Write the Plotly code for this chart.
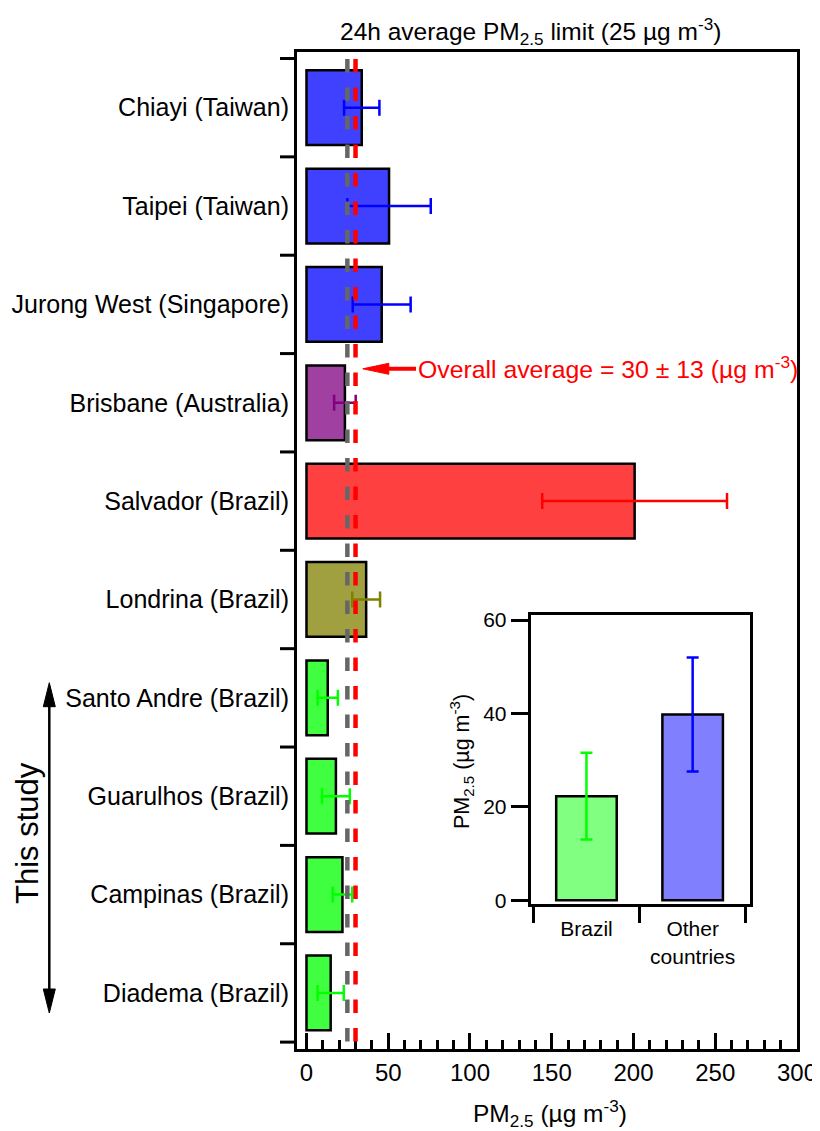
import plotly.graph_objects as go

# ---------------- data ----------------
cities = ["Chiayi (Taiwan)", "Taipei (Taiwan)", "Jurong West (Singapore)",
          "Brisbane (Australia)", "Salvador (Brazil)", "Londrina (Brazil)",
          "Santo Andre (Brazil)", "Guarulhos (Brazil)", "Campinas (Brazil)",
          "Diadema (Brazil)"]
pm25_mean = [33.8, 50.5, 46.0, 23.5, 200.7, 36.5, 13.0, 18.0, 22.0, 14.8]
pm25_sd = [10.8, 25.5, 17.7, 6.6, 56.5, 8.5, 6.2, 8.5, 6.0, 8.0]
city_group = ["asia", "asia", "asia", "australia", "salvador", "londrina",
              "study", "study", "study", "study"]

limit_24h = 25
overall_avg = 30
overall_sd = 13

x_ticks = [0, 50, 100, 150, 200, 250, 300]

regions = ["Brazil", "Other<br>countries"]
region_mean = [22.3, 39.8]
region_sd = [9.3, 12.2]
inset_y_ticks = [0, 20, 40, 60]
inset_grid = [20, 40]

# ---------------- styles ----------------
group_style = {
    "asia": ("#4040FF", "#0000FF"),
    "australia": ("#A040A0", "#800080"),
    "salvador": ("#FF4040", "#FF0000"),
    "londrina": ("#A0A040", "#808000"),
    "study": ("#40FF40", "#00FF00"),
}
region_style = [("#80FF80", "#00FF00"), ("#8080FF", "#0000FF")]
FONT = "Liberation Sans, Arial, sans-serif"

# page offset of the plot div (default body margin)
OFF = 8
PAGE_W, PAGE_H = 820, 1131
# plot-area pixel geometry in page coordinates (for decorations)
L, R, T, B = 297, 797, 52, 1049
W, H = R - L, B - T


def px(x):
    return (x - L) / W


def py(y):
    return (B - y) / H


fig = go.Figure()

# main bars, one trace per colour group
for g in ["asia", "australia", "salvador", "londrina", "study"]:
    idx = [i for i, cg in enumerate(city_group) if cg == g]
    fill, ecol = group_style[g]
    fig.add_trace(go.Bar(
        y=[cities[i] for i in idx],
        x=[pm25_mean[i] for i in idx],
        orientation="h",
        width=0.76,
        marker=dict(color=fill, line=dict(color="black", width=2.5)),
        error_x=dict(type="data", array=[pm25_sd[i] for i in idx],
                     color=ecol, thickness=2.5, width=8),
        showlegend=False,
        xaxis="x", yaxis="y",
    ))

# inset bars
for i, reg in enumerate(regions):
    fill, ecol = region_style[i]
    fig.add_trace(go.Bar(
        x=[reg], y=[region_mean[i]],
        width=0.57,
        marker=dict(color=fill, line=dict(color="black", width=2.5)),
        error_y=dict(type="data", array=[region_sd[i]], color=ecol,
                     thickness=2.5, width=6),
        showlegend=False,
        xaxis="x2", yaxis="y2",
    ))

shapes = []
# reference lines (limit and overall average)
for val, col in [(limit_24h, "#666666"), (overall_avg, "#FF0000")]:
    shapes.append(dict(type="line", xref="x", yref="paper",
                       x0=val, x1=val, y0=py(59), y1=0,
                       line=dict(color=col, width=4.5, dash="13.5px,15px"),
                       layer="above"))

# boundary ticks on the category axis
for k in range(len(cities) + 1):
    shapes.append(dict(type="line", xref="paper", yref="y",
                       x0=-17 / W, x1=0, y0=k - 0.5, y1=k - 0.5,
                       line=dict(color="black", width=3)))

# inset dotted grid
for gv in inset_grid:
    shapes.append(dict(type="line", xref="x2 domain", yref="y2",
                       x0=0, x1=1, y0=gv, y1=gv,
                       line=dict(color="#6060FF", width=1, dash="dot"),
                       layer="below"))


def tri(tip_x, tip_y, dx, dy, length, half):
    # triangle in pixel space -> paper path
    bx, by = tip_x - dx * length, tip_y - dy * length
    nx, ny = -dy, dx
    p1 = (bx + nx * half, by + ny * half)
    p2 = (bx - nx * half, by - ny * half)
    return (f"M {px(tip_x)},{py(tip_y)} L {px(p1[0])},{py(p1[1])} "
            f"L {px(p2[0])},{py(p2[1])} Z")


# "overall average" arrow
ay_px = 368.8
shapes.append(dict(type="line", xref="paper", yref="paper",
                   x0=px(416), x1=px(380), y0=py(ay_px), y1=py(ay_px),
                   line=dict(color="#FF0000", width=4)))
shapes.append(dict(type="path", xref="paper", yref="paper",
                   path=tri(362.8, ay_px, -1, 0, 26, 5.5),
                   fillcolor="#FF0000", line=dict(color="#FF0000", width=1)))

# "This study" double arrow
sx = 49.3
shapes.append(dict(type="line", xref="paper", yref="paper",
                   x0=px(sx), x1=px(sx), y0=py(700), y1=py(995),
                   line=dict(color="black", width=2.5)))
shapes.append(dict(type="path", xref="paper", yref="paper",
                   path=tri(sx, 682.7, 0, -1, 24, 6),
                   fillcolor="black", line=dict(color="black", width=1)))
shapes.append(dict(type="path", xref="paper", yref="paper",
                   path=tri(sx, 1013, 0, 1, 24, 6),
                   fillcolor="black", line=dict(color="black", width=1)))

annotations = [
    dict(text="24h average PM<sub>2.5</sub> limit (25 µg m<sup>-3</sup>)",
         xref="paper", yref="paper", x=px(530), y=py(31),
         xanchor="center", yanchor="middle", showarrow=False,
         font=dict(size=24.5, color="black", family=FONT)),
    dict(text="PM<sub>2.5</sub> (µg m<sup>-3</sup>)",
         xref="paper", yref="paper", x=px(550), y=py(1113),
         xanchor="center", yanchor="middle", showarrow=False,
         font=dict(size=24.5, color="black", family=FONT)),
    dict(text=f"Overall average = {overall_avg} ± {overall_sd} (µg m<sup>-3</sup>)",
         xref="paper", yref="paper", x=px(416), y=py(367),
         xanchor="left", yanchor="middle", showarrow=False,
         font=dict(size=24.8, color="#FF0000", family=FONT)),
    dict(text="This study", textangle=-90,
         xref="paper", yref="paper", x=px(27), y=py(833),
         xanchor="center", yanchor="middle", showarrow=False,
         font=dict(size=31, color="black", family=FONT)),
    dict(text="PM<sub>2.5</sub> (µg m<sup>-3</sup>)", textangle=-90,
         xref="paper", yref="paper", x=px(461), y=py(762),
         xanchor="center", yanchor="middle", showarrow=False,
         font=dict(size=21.5, color="black", family=FONT)),
]

fig.update_layout(
    width=PAGE_W - OFF, height=PAGE_H - OFF,
    margin=dict(l=L - OFF, r=PAGE_W - R, t=T - OFF, b=PAGE_H - B,
                autoexpand=False),
    paper_bgcolor="white", plot_bgcolor="white",
    barmode="overlay",
    font=dict(family=FONT, color="black"),
    shapes=shapes,
    annotations=annotations,
    xaxis=dict(
        range=[-5.8, 300], tickvals=x_ticks,
        ticks="inside", ticklen=16, tickwidth=2.5, tickcolor="black",
        minor=dict(dtick=10, tick0=0, ticks="inside", ticklen=9,
                   tickwidth=2.5, tickcolor="black"),
        showline=True, mirror=True, linewidth=3, linecolor="black",
        showgrid=False, zeroline=False,
        tickfont=dict(size=24, color="black"),
        ticklabelstandoff=0, automargin=False,
        anchor="y",
    ),
    yaxis=dict(
        type="category", categoryorder="array", categoryarray=cities,
        range=[9.57, -0.566],
        ticks="", showline=True, mirror=True, linewidth=3, linecolor="black",
        showgrid=False, zeroline=False,
        tickfont=dict(size=25, color="black"),
        ticklabelstandoff=0, automargin=False,
        anchor="x",
    ),
    xaxis2=dict(
        domain=[px(530.7), px(750)],
        type="category", categoryorder="array", categoryarray=regions,
        range=[-0.525, 1.54],
        tickson="boundaries", ticks="outside", ticklen=16, tickwidth=3,
        tickcolor="black",
        showline=True, mirror=True, linewidth=3, linecolor="black",
        showgrid=False, zeroline=False,
        tickfont=dict(size=21, color="black"), automargin=False,
        ticklabelstandoff=4,
        anchor="y2",
    ),
    yaxis2=dict(
        domain=[py(904), py(615)],
        range=[-0.8, 61.1], tickvals=inset_y_ticks,
        ticks="outside", ticklen=17, tickwidth=3, tickcolor="black",
        showline=True, mirror=True, linewidth=3, linecolor="black",
        showgrid=False, zeroline=False,
        tickfont=dict(size=21, color="black"), automargin=False,
        anchor="x2",
    ),
)

fig.write_html("out.html")
